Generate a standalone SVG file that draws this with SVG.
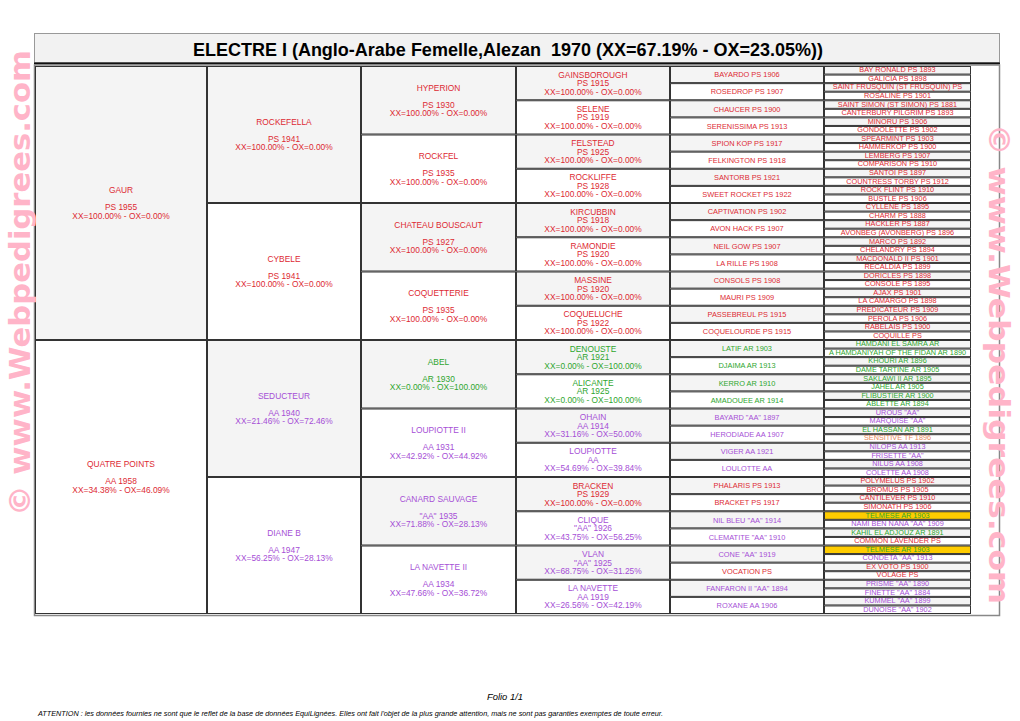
<svg xmlns="http://www.w3.org/2000/svg" width="1020" height="721" viewBox="0 0 1020 721">
<style>
text{font-family:"Liberation Sans",Arial,sans-serif;text-anchor:middle}
rect.g,rect.w,rect.y{stroke:#333;stroke-width:1}
.g{fill:#f4f4f4}.w{fill:#fff}.y{fill:#ffcc00}
.a{font-size:8.4px}.b{font-size:7.4px}.d{font-size:7.3px}
.R{fill:#dd2a33}.G{fill:#2ea62e}.P{fill:#a64fd6}.O{fill:#e98a5e}
.wm{font-family:"DejaVu Sans",Verdana,sans-serif;font-weight:bold;font-size:29px;fill:#ffb4c8}
.ti{font-weight:bold;font-size:18px;fill:#000}
.ft{font-style:italic;fill:#000}
</style>
<rect width="1020" height="721" fill="#fff"/>
<g id="title">
<rect x="34.5" y="33.5" width="965" height="29" fill="#f2f2f2" stroke="#999"/>
<line x1="34" y1="63.5" x2="1000" y2="63.5" stroke="#111" stroke-width="2"/>
<text class="ti" x="508" y="56" xml:space="preserve">ELECTRE I (Anglo-Arabe Femelle,Alezan  1970 (XX=67.19% - OX=23.05%))</text>
</g>
<rect x="34.5" y="65" width="965" height="550.5" fill="none" stroke="#888" stroke-width="1.5"/>
<g id="col1">
<g id="n-gaur"><rect class="g" x="35.5" y="66.5" width="171" height="273"/><text class="a R"><tspan x="121" y="193.25">GAUR</tspan><tspan x="121" y="210.25">PS 1955</tspan><tspan x="121" y="218.75">XX=100.00% - OX=0.00%</tspan></text></g>
<g id="n-quatre-points"><rect class="w" x="35.5" y="340.5" width="171" height="273"/><text class="a R"><tspan x="121" y="467.25">QUATRE POINTS</tspan><tspan x="121" y="484.25">AA 1958</tspan><tspan x="121" y="492.75">XX=34.38% - OX=46.09%</tspan></text></g>
</g>
<g id="col2">
<g id="n-rockefella"><rect class="g" x="207.5" y="66.5" width="153" height="136"/><text class="a R"><tspan x="284" y="124.75">ROCKEFELLA</tspan><tspan x="284" y="141.75">PS 1941</tspan><tspan x="284" y="150.25">XX=100.00% - OX=0.00%</tspan></text></g>
<g id="n-cybele"><rect class="w" x="207.5" y="203.5" width="153" height="136"/><text class="a R"><tspan x="284" y="261.75">CYBELE</tspan><tspan x="284" y="278.75">PS 1941</tspan><tspan x="284" y="287.25">XX=100.00% - OX=0.00%</tspan></text></g>
<g id="n-seducteur"><rect class="g" x="207.5" y="340.5" width="153" height="136"/><text class="a P"><tspan x="284" y="398.75">SEDUCTEUR</tspan><tspan x="284" y="415.75">AA 1940</tspan><tspan x="284" y="424.25">XX=21.46% - OX=72.46%</tspan></text></g>
<g id="n-diane-b"><rect class="w" x="207.5" y="477.5" width="153" height="136"/><text class="a P"><tspan x="284" y="535.75">DIANE B</tspan><tspan x="284" y="552.75">AA 1947</tspan><tspan x="284" y="561.25">XX=56.25% - OX=28.13%</tspan></text></g>
</g>
<g id="col3">
<g id="n-hyperion"><rect class="g" x="361.5" y="66.5" width="154" height="67.5"/><text class="a R"><tspan x="438.5" y="90.5">HYPERION</tspan><tspan x="438.5" y="107.5">PS 1930</tspan><tspan x="438.5" y="116">XX=100.00% - OX=0.00%</tspan></text></g>
<g id="n-rockfel"><rect class="w" x="361.5" y="135" width="154" height="67.5"/><text class="a R"><tspan x="438.5" y="159">ROCKFEL</tspan><tspan x="438.5" y="176">PS 1935</tspan><tspan x="438.5" y="184.5">XX=100.00% - OX=0.00%</tspan></text></g>
<g id="n-chateau-bouscaut"><rect class="g" x="361.5" y="203.5" width="154" height="67.5"/><text class="a R"><tspan x="438.5" y="227.5">CHATEAU BOUSCAUT</tspan><tspan x="438.5" y="244.5">PS 1927</tspan><tspan x="438.5" y="253">XX=100.00% - OX=0.00%</tspan></text></g>
<g id="n-coquetterie"><rect class="w" x="361.5" y="272" width="154" height="67.5"/><text class="a R"><tspan x="438.5" y="296">COQUETTERIE</tspan><tspan x="438.5" y="313">PS 1935</tspan><tspan x="438.5" y="321.5">XX=100.00% - OX=0.00%</tspan></text></g>
<g id="n-abel"><rect class="g" x="361.5" y="340.5" width="154" height="67.5"/><text class="a G"><tspan x="438.5" y="364.5">ABEL</tspan><tspan x="438.5" y="381.5">AR 1930</tspan><tspan x="438.5" y="390">XX=0.00% - OX=100.00%</tspan></text></g>
<g id="n-loupiotte-ii"><rect class="w" x="361.5" y="409" width="154" height="67.5"/><text class="a P"><tspan x="438.5" y="433">LOUPIOTTE II</tspan><tspan x="438.5" y="450">AA 1931</tspan><tspan x="438.5" y="458.5">XX=42.92% - OX=44.92%</tspan></text></g>
<g id="n-canard-sauvage"><rect class="g" x="361.5" y="477.5" width="154" height="67.5"/><text class="a P"><tspan x="438.5" y="501.5">CANARD SAUVAGE</tspan><tspan x="438.5" y="518.5">"AA" 1935</tspan><tspan x="438.5" y="527">XX=71.88% - OX=28.13%</tspan></text></g>
<g id="n-la-navette-ii"><rect class="w" x="361.5" y="546" width="154" height="67.5"/><text class="a P"><tspan x="438.5" y="570">LA NAVETTE II</tspan><tspan x="438.5" y="587">AA 1934</tspan><tspan x="438.5" y="595.5">XX=47.66% - OX=36.72%</tspan></text></g>
</g>
<g id="col4">
<g id="n-gainsborough"><rect class="g" x="516.5" y="66.5" width="153" height="33.25"/><text class="a R"><tspan x="593" y="77.6">GAINSBOROUGH</tspan><tspan x="593" y="86.1">PS 1915</tspan><tspan x="593" y="94.6">XX=100.00% - OX=0.00%</tspan></text></g>
<g id="n-selene"><rect class="w" x="516.5" y="100.75" width="153" height="33.25"/><text class="a R"><tspan x="593" y="111.9">SELENE</tspan><tspan x="593" y="120.4">PS 1919</tspan><tspan x="593" y="128.9">XX=100.00% - OX=0.00%</tspan></text></g>
<g id="n-felstead"><rect class="g" x="516.5" y="135" width="153" height="33.25"/><text class="a R"><tspan x="593" y="146.1">FELSTEAD</tspan><tspan x="593" y="154.6">PS 1925</tspan><tspan x="593" y="163.1">XX=100.00% - OX=0.00%</tspan></text></g>
<g id="n-rockliffe"><rect class="w" x="516.5" y="169.25" width="153" height="33.25"/><text class="a R"><tspan x="593" y="180.4">ROCKLIFFE</tspan><tspan x="593" y="188.9">PS 1928</tspan><tspan x="593" y="197.4">XX=100.00% - OX=0.00%</tspan></text></g>
<g id="n-kircubbin"><rect class="g" x="516.5" y="203.5" width="153" height="33.25"/><text class="a R"><tspan x="593" y="214.6">KIRCUBBIN</tspan><tspan x="593" y="223.1">PS 1918</tspan><tspan x="593" y="231.6">XX=100.00% - OX=0.00%</tspan></text></g>
<g id="n-ramondie"><rect class="w" x="516.5" y="237.75" width="153" height="33.25"/><text class="a R"><tspan x="593" y="248.9">RAMONDIE</tspan><tspan x="593" y="257.4">PS 1920</tspan><tspan x="593" y="265.9">XX=100.00% - OX=0.00%</tspan></text></g>
<g id="n-massine"><rect class="g" x="516.5" y="272" width="153" height="33.25"/><text class="a R"><tspan x="593" y="283.1">MASSINE</tspan><tspan x="593" y="291.6">PS 1920</tspan><tspan x="593" y="300.1">XX=100.00% - OX=0.00%</tspan></text></g>
<g id="n-coqueluche"><rect class="w" x="516.5" y="306.25" width="153" height="33.25"/><text class="a R"><tspan x="593" y="317.4">COQUELUCHE</tspan><tspan x="593" y="325.9">PS 1922</tspan><tspan x="593" y="334.4">XX=100.00% - OX=0.00%</tspan></text></g>
<g id="n-denouste"><rect class="g" x="516.5" y="340.5" width="153" height="33.25"/><text class="a G"><tspan x="593" y="351.6">DENOUSTE</tspan><tspan x="593" y="360.1">AR 1921</tspan><tspan x="593" y="368.6">XX=0.00% - OX=100.00%</tspan></text></g>
<g id="n-alicante"><rect class="w" x="516.5" y="374.75" width="153" height="33.25"/><text class="a G"><tspan x="593" y="385.9">ALICANTE</tspan><tspan x="593" y="394.4">AR 1925</tspan><tspan x="593" y="402.9">XX=0.00% - OX=100.00%</tspan></text></g>
<g id="n-ohain"><rect class="g" x="516.5" y="409" width="153" height="33.25"/><text class="a P"><tspan x="593" y="420.1">OHAIN</tspan><tspan x="593" y="428.6">AA 1914</tspan><tspan x="593" y="437.1">XX=31.16% - OX=50.00%</tspan></text></g>
<g id="n-loupiotte"><rect class="w" x="516.5" y="443.25" width="153" height="33.25"/><text class="a P"><tspan x="593" y="454.4">LOUPIOTTE</tspan><tspan x="593" y="462.9">AA</tspan><tspan x="593" y="471.4">XX=54.69% - OX=39.84%</tspan></text></g>
<g id="n-bracken"><rect class="g" x="516.5" y="477.5" width="153" height="33.25"/><text class="a R"><tspan x="593" y="488.6">BRACKEN</tspan><tspan x="593" y="497.1">PS 1929</tspan><tspan x="593" y="505.6">XX=100.00% - OX=0.00%</tspan></text></g>
<g id="n-clique"><rect class="w" x="516.5" y="511.75" width="153" height="33.25"/><text class="a P"><tspan x="593" y="522.9">CLIQUE</tspan><tspan x="593" y="531.4">"AA" 1926</tspan><tspan x="593" y="539.9">XX=43.75% - OX=56.25%</tspan></text></g>
<g id="n-vlan"><rect class="g" x="516.5" y="546" width="153" height="33.25"/><text class="a P"><tspan x="593" y="557.1">VLAN</tspan><tspan x="593" y="565.6">"AA" 1925</tspan><tspan x="593" y="574.1">XX=68.75% - OX=31.25%</tspan></text></g>
<g id="n-la-navette"><rect class="w" x="516.5" y="580.25" width="153" height="33.25"/><text class="a P"><tspan x="593" y="591.4">LA NAVETTE</tspan><tspan x="593" y="599.9">AA 1919</tspan><tspan x="593" y="608.4">XX=26.56% - OX=42.19%</tspan></text></g>
</g>
<g id="col5">
<g id="n5-00"><rect class="g" x="670.5" y="66.5" width="153" height="16.125"/><text class="b R" x="747" y="77.3">BAYARDO PS 1906</text></g>
<g id="n5-01"><rect class="w" x="670.5" y="83.625" width="153" height="16.125"/><text class="b R" x="747" y="94.4">ROSEDROP PS 1907</text></g>
<g id="n5-02"><rect class="g" x="670.5" y="100.75" width="153" height="16.125"/><text class="b R" x="747" y="111.5">CHAUCER PS 1900</text></g>
<g id="n5-03"><rect class="w" x="670.5" y="117.875" width="153" height="16.125"/><text class="b R" x="747" y="128.6">SERENISSIMA PS 1913</text></g>
<g id="n5-04"><rect class="g" x="670.5" y="135" width="153" height="16.125"/><text class="b R" x="747" y="145.8">SPION KOP PS 1917</text></g>
<g id="n5-05"><rect class="w" x="670.5" y="152.125" width="153" height="16.125"/><text class="b R" x="747" y="162.9">FELKINGTON PS 1918</text></g>
<g id="n5-06"><rect class="g" x="670.5" y="169.25" width="153" height="16.125"/><text class="b R" x="747" y="180">SANTORB PS 1921</text></g>
<g id="n5-07"><rect class="w" x="670.5" y="186.375" width="153" height="16.125"/><text class="b R" x="747" y="197.1">SWEET ROCKET PS 1922</text></g>
<g id="n5-08"><rect class="g" x="670.5" y="203.5" width="153" height="16.125"/><text class="b R" x="747" y="214.3">CAPTIVATION PS 1902</text></g>
<g id="n5-09"><rect class="w" x="670.5" y="220.625" width="153" height="16.125"/><text class="b R" x="747" y="231.4">AVON HACK PS 1907</text></g>
<g id="n5-10"><rect class="g" x="670.5" y="237.75" width="153" height="16.125"/><text class="b R" x="747" y="248.5">NEIL GOW PS 1907</text></g>
<g id="n5-11"><rect class="w" x="670.5" y="254.875" width="153" height="16.125"/><text class="b R" x="747" y="265.6">LA RILLE PS 1908</text></g>
<g id="n5-12"><rect class="g" x="670.5" y="272" width="153" height="16.125"/><text class="b R" x="747" y="282.8">CONSOLS PS 1908</text></g>
<g id="n5-13"><rect class="w" x="670.5" y="289.125" width="153" height="16.125"/><text class="b R" x="747" y="299.9">MAURI PS 1909</text></g>
<g id="n5-14"><rect class="g" x="670.5" y="306.25" width="153" height="16.125"/><text class="b R" x="747" y="317">PASSEBREUL PS 1915</text></g>
<g id="n5-15"><rect class="w" x="670.5" y="323.375" width="153" height="16.125"/><text class="b R" x="747" y="334.1">COQUELOURDE PS 1915</text></g>
<g id="n5-16"><rect class="g" x="670.5" y="340.5" width="153" height="16.125"/><text class="b G" x="747" y="351.3">LATIF AR 1903</text></g>
<g id="n5-17"><rect class="w" x="670.5" y="357.625" width="153" height="16.125"/><text class="b G" x="747" y="368.4">DJAIMA AR 1913</text></g>
<g id="n5-18"><rect class="g" x="670.5" y="374.75" width="153" height="16.125"/><text class="b G" x="747" y="385.5">KERRO AR 1910</text></g>
<g id="n5-19"><rect class="w" x="670.5" y="391.875" width="153" height="16.125"/><text class="b G" x="747" y="402.6">AMADOUEE AR 1914</text></g>
<g id="n5-20"><rect class="g" x="670.5" y="409" width="153" height="16.125"/><text class="b P" x="747" y="419.8">BAYARD "AA" 1897</text></g>
<g id="n5-21"><rect class="w" x="670.5" y="426.125" width="153" height="16.125"/><text class="b P" x="747" y="436.9">HERODIADE AA 1907</text></g>
<g id="n5-22"><rect class="g" x="670.5" y="443.25" width="153" height="16.125"/><text class="b P" x="747" y="454">VIGER AA 1921</text></g>
<g id="n5-23"><rect class="w" x="670.5" y="460.375" width="153" height="16.125"/><text class="b P" x="747" y="471.1">LOULOTTE AA</text></g>
<g id="n5-24"><rect class="g" x="670.5" y="477.5" width="153" height="16.125"/><text class="b R" x="747" y="488.3">PHALARIS PS 1913</text></g>
<g id="n5-25"><rect class="w" x="670.5" y="494.625" width="153" height="16.125"/><text class="b R" x="747" y="505.4">BRACKET PS 1917</text></g>
<g id="n5-26"><rect class="g" x="670.5" y="511.75" width="153" height="16.125"/><text class="b P" x="747" y="522.5">NIL BLEU "AA" 1914</text></g>
<g id="n5-27"><rect class="w" x="670.5" y="528.875" width="153" height="16.125"/><text class="b P" x="747" y="539.6">CLEMATITE "AA" 1910</text></g>
<g id="n5-28"><rect class="g" x="670.5" y="546" width="153" height="16.125"/><text class="b P" x="747" y="556.8">CONE "AA" 1919</text></g>
<g id="n5-29"><rect class="w" x="670.5" y="563.125" width="153" height="16.125"/><text class="b R" x="747" y="573.9">VOCATION PS</text></g>
<g id="n5-30"><rect class="g" x="670.5" y="580.25" width="153" height="16.125"/><text class="b P" x="747" y="591">FANFARON II "AA" 1894</text></g>
<g id="n5-31"><rect class="w" x="670.5" y="597.375" width="153" height="16.125"/><text class="b P" x="747" y="608.1">ROXANE AA 1906</text></g>
</g>
<g id="col6">
<g id="n6-00"><rect class="g" x="824.5" y="66.5" width="146" height="7.5625"/><text class="d R" x="897.5" y="72.3">BAY RONALD PS 1893</text></g>
<g id="n6-01"><rect class="w" x="824.5" y="75.06" width="146" height="7.5625"/><text class="d R" x="897.5" y="80.86">GALICIA PS 1898</text></g>
<g id="n6-02"><rect class="g" x="824.5" y="83.63" width="146" height="7.5625"/><text class="d R" x="897.5" y="89.43">SAINT FRUSQUIN (ST FRUSQUIN) PS</text></g>
<g id="n6-03"><rect class="w" x="824.5" y="92.19" width="146" height="7.5625"/><text class="d R" x="897.5" y="97.99">ROSALINE PS 1901</text></g>
<g id="n6-04"><rect class="g" x="824.5" y="100.75" width="146" height="7.5625"/><text class="d R" x="897.5" y="106.55">SAINT SIMON (ST SIMON) PS 1881</text></g>
<g id="n6-05"><rect class="w" x="824.5" y="109.31" width="146" height="7.5625"/><text class="d R" x="897.5" y="115.11">CANTERBURY PILGRIM PS 1893</text></g>
<g id="n6-06"><rect class="g" x="824.5" y="117.88" width="146" height="7.5625"/><text class="d R" x="897.5" y="123.68">MINORU PS 1906</text></g>
<g id="n6-07"><rect class="w" x="824.5" y="126.44" width="146" height="7.5625"/><text class="d R" x="897.5" y="132.24">GONDOLETTE PS 1902</text></g>
<g id="n6-08"><rect class="g" x="824.5" y="135" width="146" height="7.5625"/><text class="d R" x="897.5" y="140.8">SPEARMINT PS 1903</text></g>
<g id="n6-09"><rect class="w" x="824.5" y="143.56" width="146" height="7.5625"/><text class="d R" x="897.5" y="149.36">HAMMERKOP PS 1900</text></g>
<g id="n6-10"><rect class="g" x="824.5" y="152.13" width="146" height="7.5625"/><text class="d R" x="897.5" y="157.93">LEMBERG PS 1907</text></g>
<g id="n6-11"><rect class="w" x="824.5" y="160.69" width="146" height="7.5625"/><text class="d R" x="897.5" y="166.49">COMPARISON PS 1910</text></g>
<g id="n6-12"><rect class="g" x="824.5" y="169.25" width="146" height="7.5625"/><text class="d R" x="897.5" y="175.05">SANTOI PS 1897</text></g>
<g id="n6-13"><rect class="w" x="824.5" y="177.81" width="146" height="7.5625"/><text class="d R" x="897.5" y="183.61">COUNTRESS TORBY PS 1912</text></g>
<g id="n6-14"><rect class="g" x="824.5" y="186.38" width="146" height="7.5625"/><text class="d R" x="897.5" y="192.18">ROCK FLINT PS 1910</text></g>
<g id="n6-15"><rect class="w" x="824.5" y="194.94" width="146" height="7.5625"/><text class="d R" x="897.5" y="200.74">BUSTLE PS 1906</text></g>
<g id="n6-16"><rect class="g" x="824.5" y="203.5" width="146" height="7.5625"/><text class="d R" x="897.5" y="209.3">CYLLENE PS 1895</text></g>
<g id="n6-17"><rect class="w" x="824.5" y="212.06" width="146" height="7.5625"/><text class="d R" x="897.5" y="217.86">CHARM PS 1888</text></g>
<g id="n6-18"><rect class="g" x="824.5" y="220.63" width="146" height="7.5625"/><text class="d R" x="897.5" y="226.43">HACKLER PS 1887</text></g>
<g id="n6-19"><rect class="w" x="824.5" y="229.19" width="146" height="7.5625"/><text class="d R" x="897.5" y="234.99">AVONBEG (AVONBERG) PS 1896</text></g>
<g id="n6-20"><rect class="g" x="824.5" y="237.75" width="146" height="7.5625"/><text class="d R" x="897.5" y="243.55">MARCO PS 1892</text></g>
<g id="n6-21"><rect class="w" x="824.5" y="246.31" width="146" height="7.5625"/><text class="d R" x="897.5" y="252.11">CHELANDRY PS 1894</text></g>
<g id="n6-22"><rect class="g" x="824.5" y="254.88" width="146" height="7.5625"/><text class="d R" x="897.5" y="260.68">MACDONALD II PS 1901</text></g>
<g id="n6-23"><rect class="w" x="824.5" y="263.44" width="146" height="7.5625"/><text class="d R" x="897.5" y="269.24">RECALDIA PS 1899</text></g>
<g id="n6-24"><rect class="g" x="824.5" y="272" width="146" height="7.5625"/><text class="d R" x="897.5" y="277.8">DORICLES PS 1898</text></g>
<g id="n6-25"><rect class="w" x="824.5" y="280.56" width="146" height="7.5625"/><text class="d R" x="897.5" y="286.36">CONSOLE PS 1895</text></g>
<g id="n6-26"><rect class="g" x="824.5" y="289.13" width="146" height="7.5625"/><text class="d R" x="897.5" y="294.93">AJAX PS 1901</text></g>
<g id="n6-27"><rect class="w" x="824.5" y="297.69" width="146" height="7.5625"/><text class="d R" x="897.5" y="303.49">LA CAMARGO PS 1898</text></g>
<g id="n6-28"><rect class="g" x="824.5" y="306.25" width="146" height="7.5625"/><text class="d R" x="897.5" y="312.05">PREDICATEUR PS 1909</text></g>
<g id="n6-29"><rect class="w" x="824.5" y="314.81" width="146" height="7.5625"/><text class="d R" x="897.5" y="320.61">PEROLA PS 1906</text></g>
<g id="n6-30"><rect class="g" x="824.5" y="323.38" width="146" height="7.5625"/><text class="d R" x="897.5" y="329.18">RABELAIS PS 1900</text></g>
<g id="n6-31"><rect class="w" x="824.5" y="331.94" width="146" height="7.5625"/><text class="d R" x="897.5" y="337.74">COQUILLE PS</text></g>
<g id="n6-32"><rect class="g" x="824.5" y="340.5" width="146" height="7.5625"/><text class="d G" x="897.5" y="346.3">HAMDANI EL SAMRA AR</text></g>
<g id="n6-33"><rect class="w" x="824.5" y="349.06" width="146" height="7.5625"/><text class="d G" x="897.5" y="354.86">A HAMDANIYAH OF THE FIDAN AR 1890</text></g>
<g id="n6-34"><rect class="g" x="824.5" y="357.63" width="146" height="7.5625"/><text class="d G" x="897.5" y="363.43">KHOURI AR 1896</text></g>
<g id="n6-35"><rect class="w" x="824.5" y="366.19" width="146" height="7.5625"/><text class="d G" x="897.5" y="371.99">DAME TARTINE AR 1905</text></g>
<g id="n6-36"><rect class="g" x="824.5" y="374.75" width="146" height="7.5625"/><text class="d G" x="897.5" y="380.55">SAKLAWI II AR 1895</text></g>
<g id="n6-37"><rect class="w" x="824.5" y="383.31" width="146" height="7.5625"/><text class="d G" x="897.5" y="389.11">JAHEL AR 1905</text></g>
<g id="n6-38"><rect class="g" x="824.5" y="391.88" width="146" height="7.5625"/><text class="d G" x="897.5" y="397.68">FLIBUSTIER AR 1900</text></g>
<g id="n6-39"><rect class="w" x="824.5" y="400.44" width="146" height="7.5625"/><text class="d G" x="897.5" y="406.24">ABLETTE AR 1894</text></g>
<g id="n6-40"><rect class="g" x="824.5" y="409" width="146" height="7.5625"/><text class="d P" x="897.5" y="414.8">UROUS "AA"</text></g>
<g id="n6-41"><rect class="w" x="824.5" y="417.56" width="146" height="7.5625"/><text class="d P" x="897.5" y="423.36">MARQUISE "AA"</text></g>
<g id="n6-42"><rect class="g" x="824.5" y="426.13" width="146" height="7.5625"/><text class="d G" x="897.5" y="431.93">EL HASSAN AR 1891</text></g>
<g id="n6-43"><rect class="w" x="824.5" y="434.69" width="146" height="7.5625"/><text class="d O" x="897.5" y="440.49">SENSITIVE TF 1896</text></g>
<g id="n6-44"><rect class="g" x="824.5" y="443.25" width="146" height="7.5625"/><text class="d P" x="897.5" y="449.05">NILOPS AA 1913</text></g>
<g id="n6-45"><rect class="w" x="824.5" y="451.81" width="146" height="7.5625"/><text class="d P" x="897.5" y="457.61">FRISETTE "AA"</text></g>
<g id="n6-46"><rect class="g" x="824.5" y="460.38" width="146" height="7.5625"/><text class="d P" x="897.5" y="466.18">NILUS AA 1908</text></g>
<g id="n6-47"><rect class="w" x="824.5" y="468.94" width="146" height="7.5625"/><text class="d P" x="897.5" y="474.74">COLETTE AA 1908</text></g>
<g id="n6-48"><rect class="g" x="824.5" y="477.5" width="146" height="7.5625"/><text class="d R" x="897.5" y="483.3">POLYMELUS PS 1902</text></g>
<g id="n6-49"><rect class="w" x="824.5" y="486.06" width="146" height="7.5625"/><text class="d R" x="897.5" y="491.86">BROMUS PS 1905</text></g>
<g id="n6-50"><rect class="g" x="824.5" y="494.63" width="146" height="7.5625"/><text class="d R" x="897.5" y="500.43">CANTILEVER PS 1910</text></g>
<g id="n6-51"><rect class="w" x="824.5" y="503.19" width="146" height="7.5625"/><text class="d R" x="897.5" y="508.99">SIMONATH PS 1906</text></g>
<g id="n6-52"><rect class="y" x="824.5" y="511.75" width="146" height="7.5625"/><text class="d G" x="897.5" y="517.55">TELMESE AR 1903</text></g>
<g id="n6-53"><rect class="w" x="824.5" y="520.31" width="146" height="7.5625"/><text class="d P" x="897.5" y="526.11">NAMI BEN NANA "AA" 1909</text></g>
<g id="n6-54"><rect class="g" x="824.5" y="528.88" width="146" height="7.5625"/><text class="d G" x="897.5" y="534.68">KAHIL EL ADJOUZ AR 1891</text></g>
<g id="n6-55"><rect class="w" x="824.5" y="537.44" width="146" height="7.5625"/><text class="d R" x="897.5" y="543.24">COMMON LAVENDER PS</text></g>
<g id="n6-56"><rect class="y" x="824.5" y="546" width="146" height="7.5625"/><text class="d G" x="897.5" y="551.8">TELMESE AR 1903</text></g>
<g id="n6-57"><rect class="w" x="824.5" y="554.56" width="146" height="7.5625"/><text class="d P" x="897.5" y="560.36">CONDETA "AA" 1913</text></g>
<g id="n6-58"><rect class="g" x="824.5" y="563.13" width="146" height="7.5625"/><text class="d R" x="897.5" y="568.93">EX VOTO PS 1900</text></g>
<g id="n6-59"><rect class="w" x="824.5" y="571.69" width="146" height="7.5625"/><text class="d R" x="897.5" y="577.49">VOLAGE PS</text></g>
<g id="n6-60"><rect class="g" x="824.5" y="580.25" width="146" height="7.5625"/><text class="d P" x="897.5" y="586.05">PRISME "AA" 1890</text></g>
<g id="n6-61"><rect class="w" x="824.5" y="588.81" width="146" height="7.5625"/><text class="d P" x="897.5" y="594.61">FINETTE "AA" 1884</text></g>
<g id="n6-62"><rect class="g" x="824.5" y="597.38" width="146" height="7.5625"/><text class="d P" x="897.5" y="603.18">KUMMEL "AA" 1899</text></g>
<g id="n6-63"><rect class="w" x="824.5" y="605.94" width="146" height="7.5625"/><text class="d P" x="897.5" y="611.74">DUNOISE "AA" 1902</text></g>
</g>
<g id="footer">
<text class="ft" x="505" y="700" font-size="9.4">Folio 1/1</text>
<text class="ft" x="350.5" y="716" font-size="6.5" textLength="625" lengthAdjust="spacingAndGlyphs">ATTENTION : les données fournies ne sont que le reflet de la base de données EquiLignées. Elles ont fait l'objet de la plus grande attention, mais ne sont pas garanties exemptes de toute erreur.</text>
</g>
<g id="watermarks">
<text class="wm" transform="translate(30,283) rotate(-90)" textLength="466" lengthAdjust="spacingAndGlyphs">© www.Webpedigrees.com</text>
<text class="wm" transform="translate(989,364) rotate(90)" textLength="480" lengthAdjust="spacingAndGlyphs">© www.Webpedigrees.com</text>
</g>
</svg>
